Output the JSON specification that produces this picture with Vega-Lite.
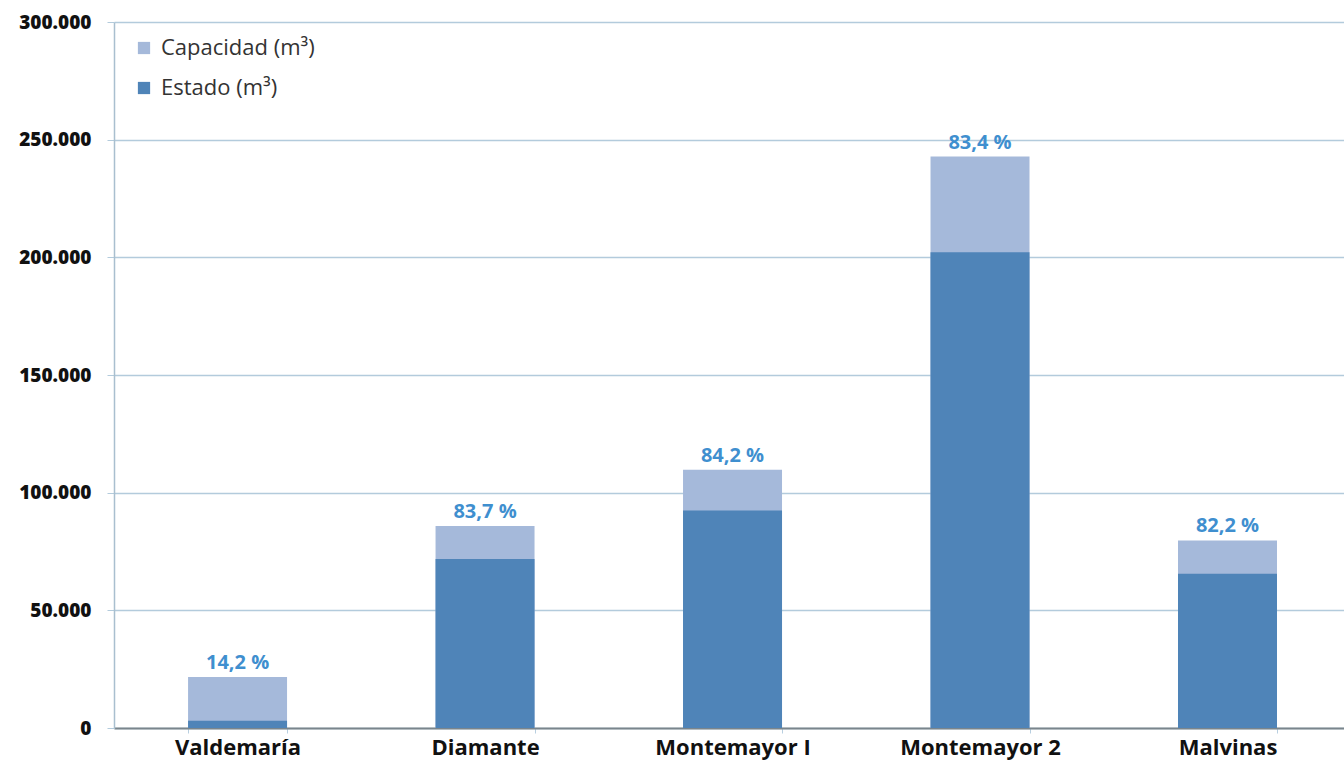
{
  "$schema": "https://vega.github.io/schema/vega-lite/v6.json",
  "autosize": {"type": "none"},
  "padding": {"left": 114, "top": 22, "right": 0, "bottom": 33},
  "width": 1230,
  "height": 706,
  "background": "white",
  "config": {
    "font": "Open Sans",
    "view": {"stroke": null}
  },
  "data": {
    "values": [
      {"embalse": "Valdemaría", "capacidad": 21700, "estado": 3100, "pct": "14,2 %"},
      {"embalse": "Diamante", "capacidad": 85800, "estado": 71800, "pct": "83,7 %"},
      {"embalse": "Montemayor I", "capacidad": 109700, "estado": 92400, "pct": "84,2 %"},
      {"embalse": "Montemayor 2", "capacidad": 242800, "estado": 202200, "pct": "83,4 %"},
      {"embalse": "Malvinas", "capacidad": 79700, "estado": 65500, "pct": "82,2 %"}
    ]
  },
  "encoding": {
    "x": {
      "field": "embalse",
      "type": "nominal",
      "sort": null,
      "scale": {"paddingInner": 0.6, "paddingOuter": 0.285, "align": 0.525},
      "axis": {
        "title": null,
        "labelAngle": 0,
        "labelFont": "Open Sans",
        "labelFontWeight": "bold",
        "labelFontSize": 22,
        "labelColor": "#111111",
        "labelPadding": 4,
        "tickBand": "extent",
        "tickSize": 5,
        "tickColor": "#b8cfe0",
        "domainColor": "#7a858c",
        "domainWidth": 2,
        "grid": false
      }
    }
  },
  "layer": [
    {
      "mark": {"type": "bar"},
      "encoding": {
        "y": {
          "field": "capacidad",
          "type": "quantitative",
          "scale": {"domain": [0, 300000]},
          "axis": {
            "title": null,
            "values": [0, 50000, 100000, 150000, 200000, 250000, 300000],
            "labelExpr": "replace(format(datum.value, ',d'), /,/g, '.')",
            "labelFont": "Open Sans",
            "labelFontWeight": 800,
            "labelFontSize": 19,
            "labelColor": "#111111",
            "labelPadding": 16,
            "tickSize": 7,
            "tickColor": "#b3cbdc",
            "domainColor": "#a9bfcf",
            "domainWidth": 1.5,
            "grid": true,
            "gridColor": "#b3cbdc",
            "gridWidth": 1.5
          }
        },
        "color": {
          "datum": "Capacidad (m³)",
          "type": "nominal",
          "scale": {"domain": ["Capacidad (m³)", "Estado (m³)"], "range": ["#a5b9da", "#4f84b8"]},
          "legend": {
            "title": null,
            "orient": "none",
            "legendX": 19,
            "legendY": 15,
            "symbolType": "square",
            "symbolSize": 150,
            "symbolStrokeWidth": 0,
            "labelFont": "Open Sans",
            "labelFontSize": 22,
            "labelColor": "#333333",
            "rowPadding": 18,
            "labelOffset": 6
          }
        }
      }
    },
    {
      "mark": {"type": "bar"},
      "encoding": {
        "y": {"field": "estado", "type": "quantitative"},
        "color": {"datum": "Estado (m³)", "type": "nominal"}
      }
    },
    {
      "mark": {"type": "text", "dy": -8, "baseline": "alphabetic", "fontWeight": "bold", "fontSize": 20, "color": "#3f8fcf", "font": "Open Sans"},
      "encoding": {
        "y": {"field": "capacidad", "type": "quantitative"},
        "text": {"field": "pct", "type": "nominal"}
      }
    }
  ]
}
